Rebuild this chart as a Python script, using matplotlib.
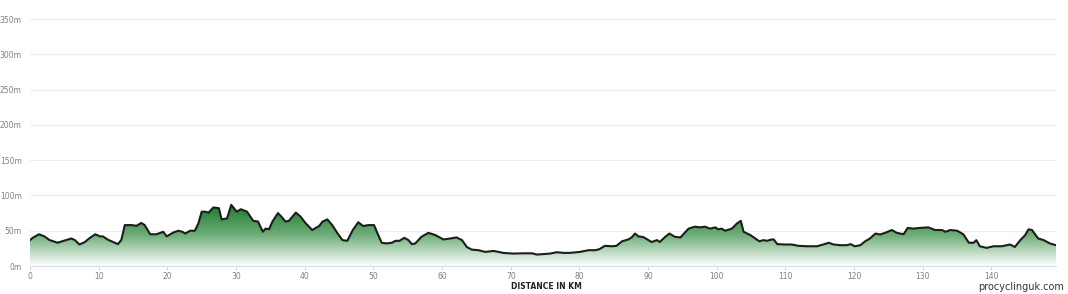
import numpy as np
import matplotlib
matplotlib.use("Agg")
import matplotlib.pyplot as plt
from matplotlib.colors import LinearSegmentedColormap
from matplotlib.patches import Polygon

# profile: distance (km) and elevation (m)
km = [0.0, 0.4, 1.3, 2.1, 2.8, 4.0, 5.3, 6.0, 6.5, 7.2, 8.0, 8.6, 9.5, 10.2, 10.6,
      11.4, 12.1, 12.8, 13.3, 13.8, 14.8, 15.5, 16.2, 16.7, 17.5, 18.4, 19.4, 19.9,
      20.9, 21.6, 22.2, 22.6, 23.3, 24.0, 24.5, 25.0, 25.5, 26.0, 26.7, 27.5, 27.9,
      28.7, 29.3, 30.1, 30.7, 31.6, 32.5, 33.2, 33.9, 34.3, 34.8, 35.3, 36.1, 36.6,
      37.2, 37.7, 38.7, 39.4, 40.1, 41.1, 42.1, 42.6, 43.3, 44.0, 44.8, 45.5, 46.2,
      47.0, 47.8, 48.5, 49.3, 50.1, 50.5, 51.2, 51.9, 52.7, 53.2, 53.8, 54.5, 55.1,
      55.6, 56.1, 57.0, 58.0, 59.0, 60.2, 61.2, 62.1, 62.9, 63.6, 64.3, 65.3, 66.3,
      67.5, 68.2, 68.9, 70.4, 71.8, 73.1, 73.8, 74.8, 75.7, 76.7, 77.7, 78.6, 80.1,
      81.3, 82.3, 82.9, 83.7, 84.7, 85.4, 86.2, 87.1, 87.6, 88.1, 88.6, 89.3, 89.9,
      90.5, 91.3, 91.7, 92.5, 93.1, 93.9, 94.7, 95.1, 95.9, 96.8, 97.6, 98.3, 99.0,
      99.8, 100.2, 100.7, 101.2, 102.2, 102.9, 103.5, 103.9, 104.9, 105.6, 106.2,
      106.8, 107.3, 108.0, 108.3, 108.8, 110.0, 110.9, 111.9, 113.1, 114.6, 115.5,
      116.3, 117.0, 118.0, 118.9, 119.5, 120.1, 120.9, 121.6, 122.3, 123.1, 123.8,
      124.5, 125.5, 126.2, 127.2, 127.8, 128.6, 129.6, 130.8, 131.8, 132.8, 133.3,
      134.0, 135.0, 135.9, 136.7, 137.4, 137.8, 138.3, 139.3, 140.3, 141.5, 142.7,
      143.4, 144.2, 144.9, 145.4, 145.9, 146.8, 147.6, 148.5, 149.4]
elev = [36.7, 40, 45, 42, 37, 33, 37, 39, 37, 30.5, 34, 39, 45, 42, 42,
        37, 34, 31, 37, 58, 58, 57, 61, 58, 45, 45, 48.5, 42,
        47.6, 50, 48.5, 46, 50, 50, 60, 77, 77, 75.7, 83, 82, 66,
        67.6, 86.7, 77, 80.5, 77, 64, 63, 48.5, 53, 52, 63, 75, 70,
        63, 64, 75.7, 70, 61, 51, 56.7, 63, 66, 58, 46, 36.7, 35.7,
        51, 62, 56.7, 58, 58, 48.5, 33, 32, 33, 35.7, 35.7, 40, 36.7,
        31, 32, 41.4, 47, 44, 37.6, 39, 40.5, 36.7, 27, 23.3, 22.4, 20,
        21.4, 20, 18.6, 17.6, 18, 18, 16.2, 17, 17.6, 19.5, 18.6, 18.6, 20,
        22.4, 22.4, 23.8, 28.6, 28, 28.6, 35, 37.6, 40.5, 46, 42, 41, 37.6,
        34, 36.7, 34, 41.4, 46, 41.4, 40.5, 44.7, 53, 55.7, 54.8, 55.7, 53,
        54.8, 52, 53, 50, 53, 60, 64, 48.5, 43.8, 39, 35,
        36.7, 35.7, 37.6, 37.6, 31, 30.5, 30.5, 28.6, 28, 28, 30.5,
        33, 30.5, 29.5, 29.5, 31, 28, 29.5, 35, 39, 46, 44.7,
        47, 51, 47, 45, 54, 53, 54, 54.8, 51, 51, 48.5,
        51, 50, 45, 33, 33, 36.7, 28, 25.7, 28, 28, 30.5,
        27, 36.7, 43.8, 52, 51, 39, 36.7, 32, 29.5]

y_ticks = [0, 50, 100, 150, 200, 250, 300, 350]
y_labels = ["0m", "50m", "100m", "150m", "200m", "250m", "300m", "350m"]
x_ticks = [0, 10, 20, 30, 40, 50, 60, 70, 80, 90, 100, 110, 120, 130, 140]

x = np.array(km)
y = np.array(elev)

fig = plt.figure(figsize=(10.68, 2.94), dpi=100)
fig.patch.set_facecolor("white")
ax = fig.add_axes([0.0281, 0.0952, 0.9607, 0.840])
ax.set_xlim(0, x[-1])
ax.set_ylim(0, 350)

# gradient fill under the profile, dark green at the top to white at the bottom
cmap = LinearSegmentedColormap.from_list("elev", ["#ffffff", "#6fae79", "#1b782c"])
grad = np.linspace(0, 1, 256).reshape(-1, 1)
im = ax.imshow(grad, cmap=cmap, aspect="auto", origin="lower",
               extent=[0, x[-1], 0, y.max()], zorder=1)
poly = Polygon(np.column_stack([np.r_[x[0], x, x[-1]], np.r_[0, y, 0]]),
               closed=True, facecolor="none", edgecolor="none")
ax.add_patch(poly)
im.set_clip_path(poly)

ax.plot(x, y, color="#1b1f1b", lw=1.5, solid_joinstyle="round", zorder=3)

for v in y_ticks[1:]:
    ax.axhline(v, color="#ececf2", lw=0.8, zorder=0)

ax.set_yticks(y_ticks)
ax.set_yticklabels(y_labels)
ax.set_xticks(x_ticks)
ax.tick_params(axis="y", length=0, pad=6, labelsize=5.5, labelcolor="#808080")
ax.tick_params(axis="x", length=3, width=0.6, color="#cccccc", pad=1,
               labelsize=5.5, labelcolor="#808080")
for side in ["top", "right", "left"]:
    ax.spines[side].set_visible(False)
ax.spines["bottom"].set_color("#d8dce8")
ax.spines["bottom"].set_linewidth(0.8)

fig.text(0.512, 0.024, "DISTANCE IN KM", ha="center", va="center",
         fontsize=5.5, fontweight="bold", color="#222222")
fig.text(0.996, 0.024, "procyclinguk.com", ha="right", va="center",
         fontsize=7, color="#333333")

fig.savefig("out.png", dpi=100, facecolor="white")
